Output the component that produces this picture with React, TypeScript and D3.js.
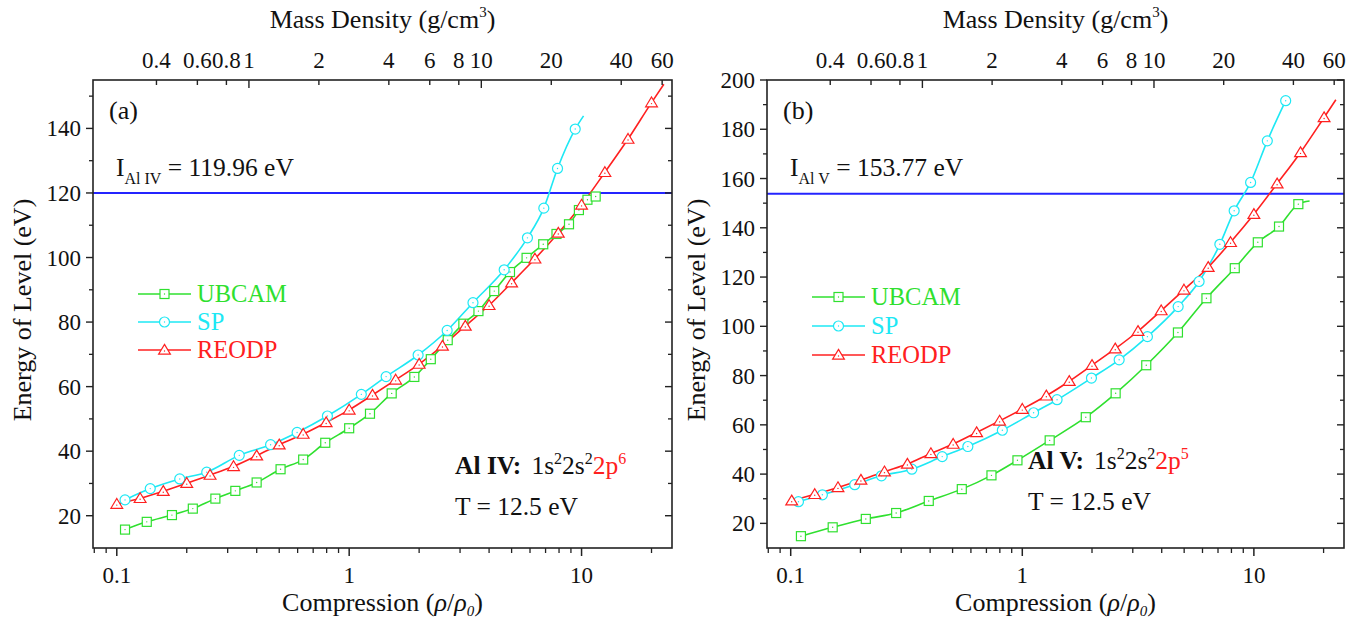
import React from 'react';
import * as d3 from 'd3';

// ---------- data (compression, energy in eV) ----------
const ubcamA: [number, number][] = [
  [0.1085, 15.7], [0.1346, 18.1], [0.1727, 20.2], [0.2124, 22.2], [0.2656, 25.3], [0.3237, 27.7],
  [0.3998, 30.3], [0.5067, 34.4], [0.634, 37.4], [0.789, 42.6], [1.0, 47.1], [1.229, 51.6],
  [1.524, 57.9], [1.907, 63.0], [2.245, 68.5], [2.655, 74.4], [3.1, 79.5], [3.6, 83.4],
  [4.21, 89.6], [4.92, 95.5], [5.8, 99.9], [6.84, 104.1], [7.8, 107.3], [8.83, 110.3],
  [9.74, 114.7], [10.6, 117.9], [11.5, 118.9],
];
const spA: [number, number][] = [
  [0.1085, 24.9], [0.1393, 28.4], [0.1866, 31.4], [0.2438, 33.5], [0.3365, 38.7], [0.459, 42.0],
  [0.597, 45.8], [0.806, 50.9], [1.128, 57.6], [1.442, 63.1], [1.98, 69.8], [2.64, 77.4],
  [3.41, 86.0], [4.645, 96.2], [5.85, 106.1], [6.88, 115.3], [7.88, 127.6], [9.39, 139.8],
];
const spTailA: [number, number][] = [[10.2, 143.9]];
const reodpA: [number, number][] = [
  [0.1, 23.6], [0.126, 25.4], [0.1585, 27.6], [0.2, 30.1], [0.252, 32.6], [0.318, 35.3],
  [0.4, 38.6], [0.5, 42.0], [0.634, 45.3], [0.796, 48.9], [1.0, 52.8], [1.26, 57.4],
  [1.585, 62.1], [2.0, 67.0], [2.52, 72.6], [3.16, 78.8], [4.0, 85.2], [5.0, 92.2],
  [6.3, 99.6], [7.94, 107.6], [10.0, 116.3], [12.6, 126.4], [15.85, 136.7], [20.0, 148.0],
];
const reodpTailA: [number, number][] = [[22.6, 153.7]];

const ubcamB: [number, number][] = [
  [0.1107, 14.8], [0.1518, 18.4], [0.211, 21.8], [0.2853, 24.2], [0.3946, 29.1], [0.548, 33.9],
  [0.736, 39.5], [0.953, 45.6], [1.313, 53.7], [1.88, 63.1], [2.53, 72.8], [3.43, 84.2],
  [4.7, 97.5], [6.24, 111.4], [8.27, 123.6], [10.4, 134.1], [12.84, 140.5], [15.56, 149.6],
];
const ubcamTailB: [number, number][] = [[17.4, 150.9]];
const spB: [number, number][] = [
  [0.108, 28.8], [0.137, 31.6], [0.189, 35.7], [0.2465, 39.3], [0.3335, 42.0], [0.451, 47.1],
  [0.582, 51.2], [0.82, 57.8], [1.119, 64.9], [1.413, 70.2], [1.989, 79.0], [2.62, 86.4],
  [3.47, 95.8], [4.71, 108.0], [5.8, 118.2], [7.13, 133.3], [8.22, 146.9], [9.68, 158.4],
  [11.43, 175.3], [13.72, 191.6],
];
const reodpB: [number, number][] = [
  [0.101, 29.2], [0.127, 31.8], [0.16, 34.6], [0.201, 37.6], [0.254, 41.0], [0.319, 44.1],
  [0.403, 48.4], [0.503, 52.2], [0.635, 56.9], [0.798, 61.6], [1.0, 66.4], [1.27, 71.8],
  [1.595, 77.7], [2.0, 84.2], [2.52, 90.9], [3.16, 98.0], [3.98, 106.4], [4.99, 114.8],
  [6.35, 124.0], [7.93, 134.1], [10.0, 145.5], [12.6, 157.9], [15.9, 170.6], [20.1, 184.8],
];
const reodpTailB: [number, number][] = [[22.6, 192.0]];

const seriesNames = ['UBCAM', 'SP', 'REODP'];
const ionizationA = 119.96;
const ionizationB = 153.77;

const compMajorTicks = [0.1, 1, 10];
const compMinorTicks = [0.08, 0.09, 0.2, 0.3, 0.4, 0.5, 0.6, 0.7, 0.8, 0.9, 2, 3, 4, 5, 6, 7, 8, 9, 20];
const massTicks = [0.4, 0.6, 0.8, 1, 2, 4, 6, 8, 10, 20, 40, 60];
const massMajorTicks = [1, 10];
const AL_DENSITY = 2.7;

const yMajorA = [20, 40, 60, 80, 100, 120, 140];
const yMinorA = [30, 50, 70, 90, 110, 130, 150];
const yMajorB = [20, 40, 60, 80, 100, 120, 140, 160, 180, 200];
const yMinorB = [30, 50, 70, 90, 110, 130, 150, 170, 190];

// ---------- styling ----------
const FONT = "'Liberation Serif', 'Times New Roman', Times, serif";
const GREEN = '#2fe02f';
const CYAN = '#1ee8f4';
const RED = '#ff2020';
const BLUE = '#2424ff';
const colors = [GREEN, CYAN, RED];
const shapes = ['square', 'circle', 'triangle'];
const TXT = { fontFamily: FONT };
const TICK_FS = 23;
const TITLE_FS = 26;
const ANN_FS = 25.5;

type Pt = [number, number];

function Marker({ shape, x, y, color }: { shape: string; x: number; y: number; color: string }) {
  if (shape === 'square') {
    return (
      <g>
        <rect x={x - 4.5} y={y - 4.5} width={9} height={9} fill="white" stroke={color} strokeWidth={1.2} />
        <circle cx={x} cy={y} r={0.7} fill={color} />
      </g>
    );
  }
  if (shape === 'circle') {
    return (
      <g>
        <circle cx={x} cy={y} r={5} fill="white" stroke={color} strokeWidth={1.2} />
        <circle cx={x} cy={y} r={0.7} fill={color} />
      </g>
    );
  }
  const s = 5.6;
  return (
    <g>
      <path
        d={`M${x},${y - s}L${x + s * 1.05},${y + s * 0.75}L${x - s * 1.05},${y + s * 0.75}Z`}
        fill="white"
        stroke={color}
        strokeWidth={1.2}
      />
      <circle cx={x} cy={y + 1} r={0.7} fill={color} />
    </g>
  );
}

interface PanelCfg {
  id: string;
  x0: number;
  x1: number;
  yDomain: [number, number];
  yMajor: number[];
  yMinor: number[];
  series: { pts: Pt[]; tail: Pt[] }[];
  ionization: number;
  ionSub: string;
  ionText: string;
  tag: string;
  ionLabel: string;
  config: string;
  legendY: number[];
  annX: number;
  annY: number;
}

const TOP = 80;
const BOTTOM = 548;
const xDomain: [number, number] = [0.079, 24.5];

const panels: PanelCfg[] = [
  {
    id: 'a',
    x0: 93,
    x1: 672,
    yDomain: [10, 155],
    yMajor: yMajorA,
    yMinor: yMinorA,
    series: [
      { pts: ubcamA, tail: [] },
      { pts: spA, tail: spTailA },
      { pts: reodpA, tail: reodpTailA },
    ],
    ionization: ionizationA,
    ionSub: 'Al IV',
    ionText: ' = 119.96 eV',
    tag: '(a)',
    ionLabel: 'Al IV:',
    config: '6',
    legendY: [294, 322, 350],
    annX: 455,
    annY: 474,
  },
  {
    id: 'b',
    x0: 767,
    x1: 1344,
    yDomain: [10, 200],
    yMajor: yMajorB,
    yMinor: yMinorB,
    series: [
      { pts: ubcamB, tail: ubcamTailB },
      { pts: spB, tail: [] },
      { pts: reodpB, tail: reodpTailB },
    ],
    ionization: ionizationB,
    ionSub: 'Al V',
    ionText: ' = 153.77 eV',
    tag: '(b)',
    ionLabel: 'Al V:',
    config: '5',
    legendY: [297, 326, 355],
    annX: 1028,
    annY: 469,
  },
];

function Panel({ p }: { p: PanelCfg }) {
  const x = d3.scaleLog().domain(xDomain).range([p.x0, p.x1]);
  const y = d3.scaleLinear().domain(p.yDomain).range([BOTTOM, TOP]);
  const line = d3
    .line<Pt>()
    .x((d) => x(d[0]))
    .y((d) => y(d[1]))
    .curve(d3.curveMonotoneX);
  const cx = (p.x0 + p.x1) / 2;
  const clipId = `clip-${p.id}`;
  return (
    <g>
      <defs>
        <clipPath id={clipId}>
          <rect x={p.x0} y={TOP} width={p.x1 - p.x0} height={BOTTOM - TOP} />
        </clipPath>
      </defs>

      {/* ionization line */}
      <line x1={p.x0} x2={p.x1} y1={y(p.ionization)} y2={y(p.ionization)} stroke={BLUE} strokeWidth={2} />

      {/* series */}
      <g clipPath={`url(#${clipId})`}>
        {p.series.map((s, i) => (
          <path key={`l${i}`} d={line([...s.pts, ...s.tail]) || ''} fill="none" stroke={colors[i]} strokeWidth={1.6} />
        ))}
        {p.series.map((s, i) => (
          <g key={`m${i}`}>
            {s.pts.map((d, j) => (
              <Marker key={j} shape={shapes[i]} x={x(d[0])} y={y(d[1])} color={colors[i]} />
            ))}
          </g>
        ))}
      </g>

      {/* frame */}
      <rect x={p.x0} y={TOP} width={p.x1 - p.x0} height={BOTTOM - TOP} fill="none" stroke="#222" strokeWidth={1.6} />

      {/* bottom axis (outward) */}
      {compMajorTicks.map((t) => (
        <g key={`bm${t}`}>
          <line x1={x(t)} x2={x(t)} y1={BOTTOM} y2={BOTTOM + 8} stroke="#222" strokeWidth={1.5} />
          <text x={x(t)} y={BOTTOM + 35} fontSize={TICK_FS} textAnchor="middle" fill="#111" style={TXT}>
            {String(t)}
          </text>
        </g>
      ))}
      {compMinorTicks.map((t) => (
        <line key={`bn${t}`} x1={x(t)} x2={x(t)} y1={BOTTOM} y2={BOTTOM + 5} stroke="#222" strokeWidth={1.3} />
      ))}
      <text x={cx} y={611} fontSize={TITLE_FS} textAnchor="middle" fill="#111" style={TXT}>
        Compression (<tspan fontStyle="italic">ρ</tspan>/<tspan fontStyle="italic">ρ</tspan>
        <tspan fontStyle="italic" fontSize={15} dy={5}>0</tspan>
        <tspan dy={-5}>)</tspan>
      </text>

      {/* top axis (inward) : mass density */}
      {massTicks.map((m) => {
        const xx = x(m / AL_DENSITY);
        const major = massMajorTicks.includes(m);
        return (
          <g key={`t${m}`}>
            <line x1={xx} x2={xx} y1={TOP} y2={TOP + (major ? 8 : 5)} stroke="#222" strokeWidth={1.4} />
            <text x={xx} y={TOP - 12} fontSize={TICK_FS} textAnchor="middle" fill="#111" style={TXT}>
              {String(m)}
            </text>
          </g>
        );
      })}
      <text x={cx} y={28} fontSize={TITLE_FS} textAnchor="middle" fill="#111" style={TXT}>
        Mass Density (g/cm<tspan fontSize={15} dy={-11}>3</tspan>
        <tspan dy={11}>)</tspan>
      </text>

      {/* left axis (outward) + right axis (inward) */}
      {p.yMajor.map((t) => (
        <g key={`ym${t}`}>
          <line x1={p.x0 - 7} x2={p.x0} y1={y(t)} y2={y(t)} stroke="#222" strokeWidth={1.4} />
          <line x1={p.x1 - 7} x2={p.x1} y1={y(t)} y2={y(t)} stroke="#222" strokeWidth={1.4} />
          <text x={p.x0 - 12} y={y(t) + 8} fontSize={TICK_FS} textAnchor="end" fill="#111" style={TXT}>
            {String(t)}
          </text>
        </g>
      ))}
      {p.yMinor.map((t) => (
        <g key={`yn${t}`}>
          <line x1={p.x0 - 4} x2={p.x0} y1={y(t)} y2={y(t)} stroke="#222" strokeWidth={1.3} />
          <line x1={p.x1 - 4} x2={p.x1} y1={y(t)} y2={y(t)} stroke="#222" strokeWidth={1.3} />
        </g>
      ))}
      <text
        transform={`translate(${p.x0 - 71},${(TOP + BOTTOM) / 2 - 4}) rotate(-90)`}
        fontSize={TITLE_FS}
        textAnchor="middle"
        dy={9}
        fill="#111"
        style={TXT}
      >
        Energy of Level (eV)
      </text>

      {/* annotations */}
      <text x={p.x0 + 16} y={119} fontSize={TITLE_FS} fill="#111" style={TXT}>
        {p.tag}
      </text>
      <text x={p.x0 + 23} y={176} fontSize={ANN_FS} fill="#111" style={TXT}>
        I<tspan fontSize={16} dy={8}>{p.ionSub}</tspan>
        <tspan dy={-8}>{p.ionText}</tspan>
      </text>

      {/* legend */}
      {seriesNames.map((n, i) => {
        const lx0 = p.x0 + 45;
        const lx1 = p.x0 + 98;
        const ly = p.legendY[i];
        return (
          <g key={`lg${n}`}>
            <line x1={lx0} x2={lx1} y1={ly} y2={ly} stroke={colors[i]} strokeWidth={1.6} />
            <Marker shape={shapes[i]} x={(lx0 + lx1) / 2} y={ly} color={colors[i]} />
            <text x={lx1 + 6} y={ly + 8} fontSize={24.5} fill={colors[i]} style={TXT}>
              {n}
            </text>
          </g>
        );
      })}

      <text x={p.annX} y={p.annY} fontSize={ANN_FS} fill="#111" style={TXT}>
        <tspan fontWeight="bold">{p.ionLabel}</tspan>
        <tspan dx={10}>1s</tspan>
        <tspan fontSize={16} dy={-10}>2</tspan>
        <tspan dy={10}>2s</tspan>
        <tspan fontSize={16} dy={-10}>2</tspan>
        <tspan dy={10} fill={RED}>2p</tspan>
        <tspan fontSize={16} dy={-10} fill={RED}>{p.config}</tspan>
      </text>
      <text x={p.annX} y={p.annY + 41} fontSize={ANN_FS} fill="#111" style={TXT}>
        T = 12.5 eV
      </text>
    </g>
  );
}

export default function App() {
  return (
    <svg
      width={1363}
      height={623}
      viewBox="0 0 1363 623"
      style={{ position: 'absolute', left: 0, top: 0, background: 'white', fontFamily: FONT }}
    >
      <rect x={0} y={0} width={1363} height={623} fill="white" />
      {panels.map((p) => (
        <Panel key={p.id} p={p} />
      ))}
    </svg>
  );
}
